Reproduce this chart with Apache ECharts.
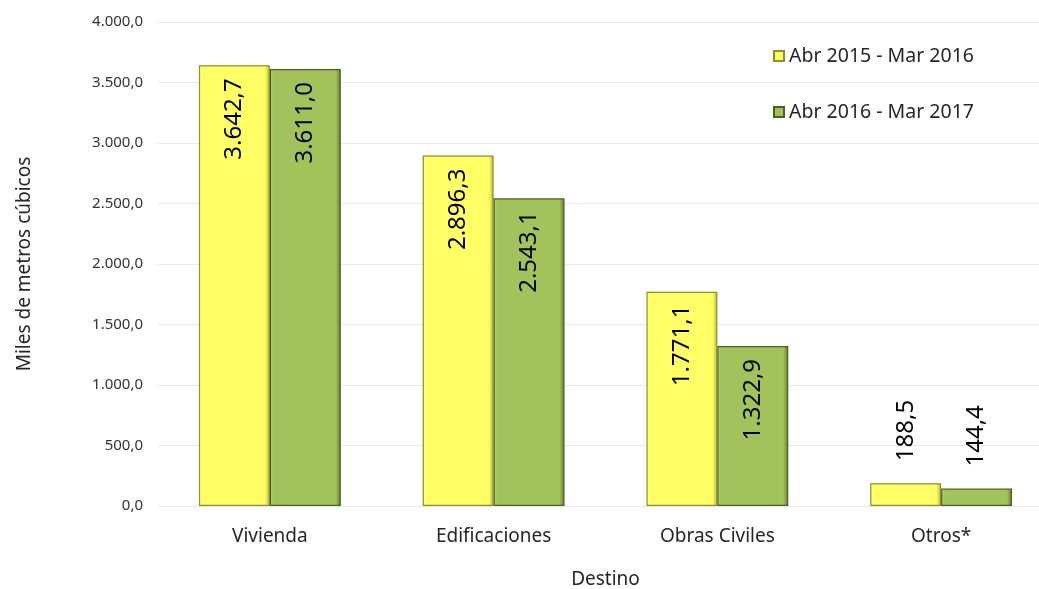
<!DOCTYPE html>
<html>
<head>
<meta charset="utf-8">
<script src="https://cdn.jsdelivr.net/npm/echarts@6/dist/echarts.min.js"></script>
<style>html,body{margin:0;padding:0;background:#fff;overflow:hidden;}#c{width:1039px;height:589px;}</style>
</head>
<body>
<div id="c"></div>
<script>
var categories = ['Vivienda', 'Edificaciones', 'Obras Civiles', 'Otros*'];
var seriesNames = ['Abr 2015 - Mar 2016', 'Abr 2016 - Mar 2017'];
var values2015 = [3642.7, 2896.3, 1771.1, 188.5];
var values2016 = [3611.0, 2543.1, 1322.9, 144.4];
var yTicks = { min: 0, max: 4000, interval: 500 };

var FONT = '"Noto Sans", "Open Sans", sans-serif';
var TXT = '#262626';

function fmt(v, dec) {
  var s = v.toFixed(dec);
  var parts = s.split('.');
  var intPart = parts[0].replace(/\B(?=(\d{3})+(?!\d))/g, '.');
  return dec > 0 ? intPart + ',' + parts[1] : intPart;
}

function grad(light, base, dark) {
  return new echarts.graphic.LinearGradient(0, 0, 1, 0, [
    { offset: 0, color: light },
    { offset: 0.05, color: base },
    { offset: 0.93, color: base },
    { offset: 1, color: dark }
  ]);
}

var yellowFill = grad('#FFFFA8', '#FFFF66', '#B8B83A');
var greenFill = grad('#C4DA8C', '#A2C25C', '#5F7A2A');

function makeData(vals) {
  return vals.map(function (v) {
    var small = v < 500;
    return {
      value: v,
      label: small ? {
        position: 'top', rotate: 90, align: 'left', verticalAlign: 'middle', distance: 22
      } : {
        position: 'insideTop', rotate: 90, align: 'right', verticalAlign: 'middle', distance: 13
      }
    };
  });
}

var labelBase = {
  show: true,
  color: '#000',
  fontFamily: FONT,
  fontSize: 24,
  formatter: function (p) { return fmt(p.value, 1); }
};

var chart = echarts.init(document.getElementById('c'));
chart.setOption({
  backgroundColor: '#fff',
  animation: false,
  grid: { left: 158, right: -14, top: 22, bottom: 83, containLabel: false, outerBoundsMode: 'none' },
  legend: {
    orient: 'vertical',
    left: 768,
    top: 41,
    itemGap: 36,
    itemWidth: 10,
    itemHeight: 10,
    icon: 'rect',
    textStyle: { fontFamily: FONT, fontSize: 19.5, color: TXT },
    data: seriesNames
  },
  xAxis: {
    type: 'category',
    data: categories,
    name: 'Destino',
    nameLocation: 'middle',
    nameGap: 64,
    nameTextStyle: { fontFamily: FONT, fontSize: 19, color: TXT },
    axisLine: { show: false },
    axisTick: { show: false },
    axisLabel: { fontFamily: FONT, fontSize: 19, color: TXT, margin: 21 }
  },
  yAxis: {
    type: 'value',
    min: yTicks.min,
    max: yTicks.max,
    interval: yTicks.interval,
    name: 'Miles de metros cúbicos',
    nameLocation: 'middle',
    nameRotate: 90,
    nameGap: 124,
    nameTextStyle: { fontFamily: FONT, fontSize: 19, color: TXT },
    axisLine: { show: false },
    axisTick: { show: false },
    axisLabel: {
      fontFamily: FONT, fontSize: 15, color: '#333', margin: 15,
      formatter: function (v) { return fmt(v, 1); }
    },
    splitLine: { lineStyle: { color: '#E8E8E8', width: 1 } }
  },
  series: [
    {
      name: seriesNames[0],
      type: 'bar',
      data: makeData(values2015),
      barGap: '0%',
      barCategoryGap: '36.6%',
      itemStyle: { color: yellowFill, borderColor: '#8E8E2A', borderWidth: 1.2 },
      label: labelBase
    },
    {
      name: seriesNames[1],
      type: 'bar',
      data: makeData(values2016),
      barGap: '0%',
      barCategoryGap: '36.6%',
      itemStyle: { color: greenFill, borderColor: '#4A6020', borderWidth: 1.2 },
      label: labelBase
    }
  ]
});
</script>
</body>
</html>
